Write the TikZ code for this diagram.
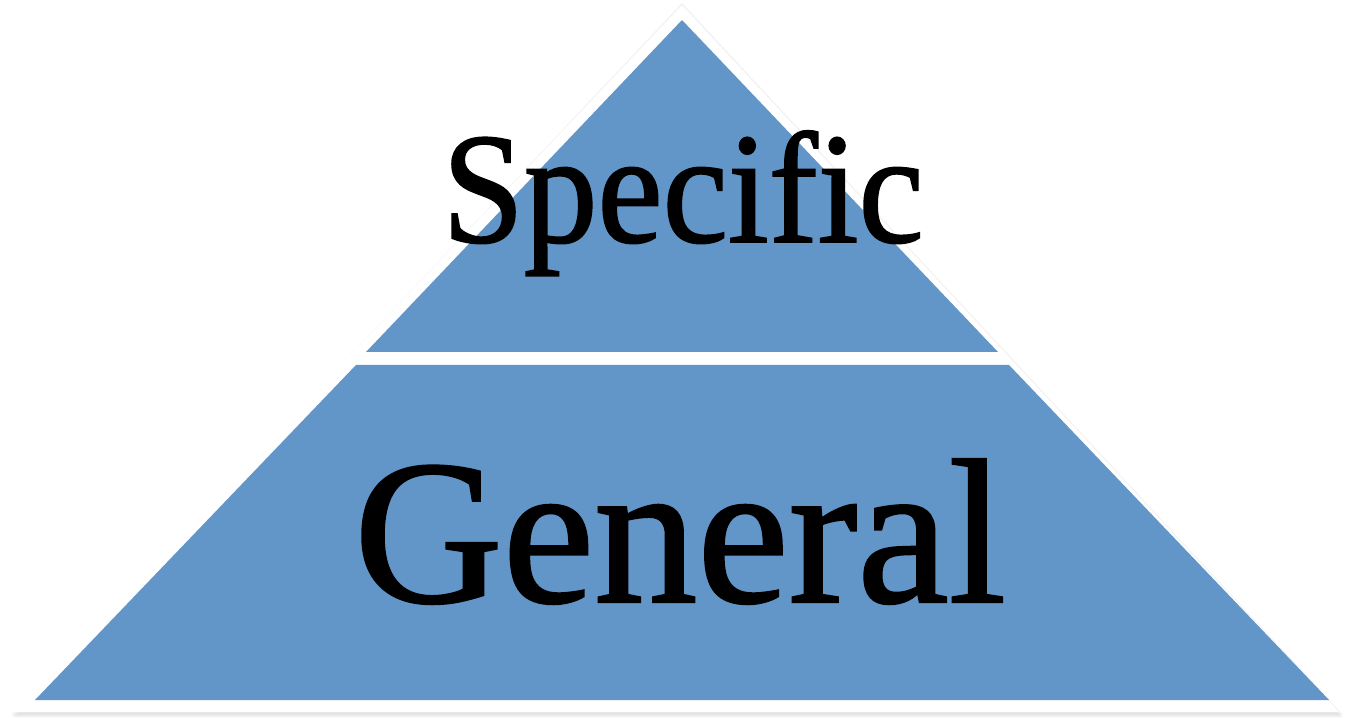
\documentclass[tikz,border=0pt]{standalone}
\usepackage{fontspec}
\setmainfont{Liberation Serif}
\newfontfamily\pyrfont[FakeBold=1.2]{Liberation Serif}
\definecolor{pyrblue}{RGB}{98,150,200}
\definecolor{shadowgray}{RGB}{150,150,150}
\tikzset{
  layer/.style={fill=pyrblue},
  label/.style={inner sep=0pt, anchor=base, text=black},
}
\begin{document}
\begin{tikzpicture}[x=1pt,y=-1pt]
  \useasboundingbox (0,0) rectangle (1345,719);
  \fill[white] (0,0) rectangle (1345,719);
  % outer shadow of the white triangle
  \fill[shadowgray, opacity=0.12] (682,3) -- (1343,715) -- (11,715) -- cycle;
  \fill[shadowgray, opacity=0.15] (682,5) -- (1342,717) -- (13,717) -- cycle;
  \fill[white] (682,5) -- (1339,712) -- (12,712) -- cycle;
  % blue layers
  \fill[layer] (682,20) -- (998,352) -- (366,352) -- cycle;
  \fill[layer] (356,365) -- (1009,365) -- (1329,700) -- (35,700) -- cycle;
  % labels
  \node[label, font=\pyrfont\fontsize{158}{158}\selectfont, xscale=0.93, transform shape] (spec) at (683,242) {Specific};
  \node[label, font=\pyrfont\fontsize{206}{206}\selectfont, transform shape] (gen) at (680,602) {General};
\end{tikzpicture}
\end{document}
